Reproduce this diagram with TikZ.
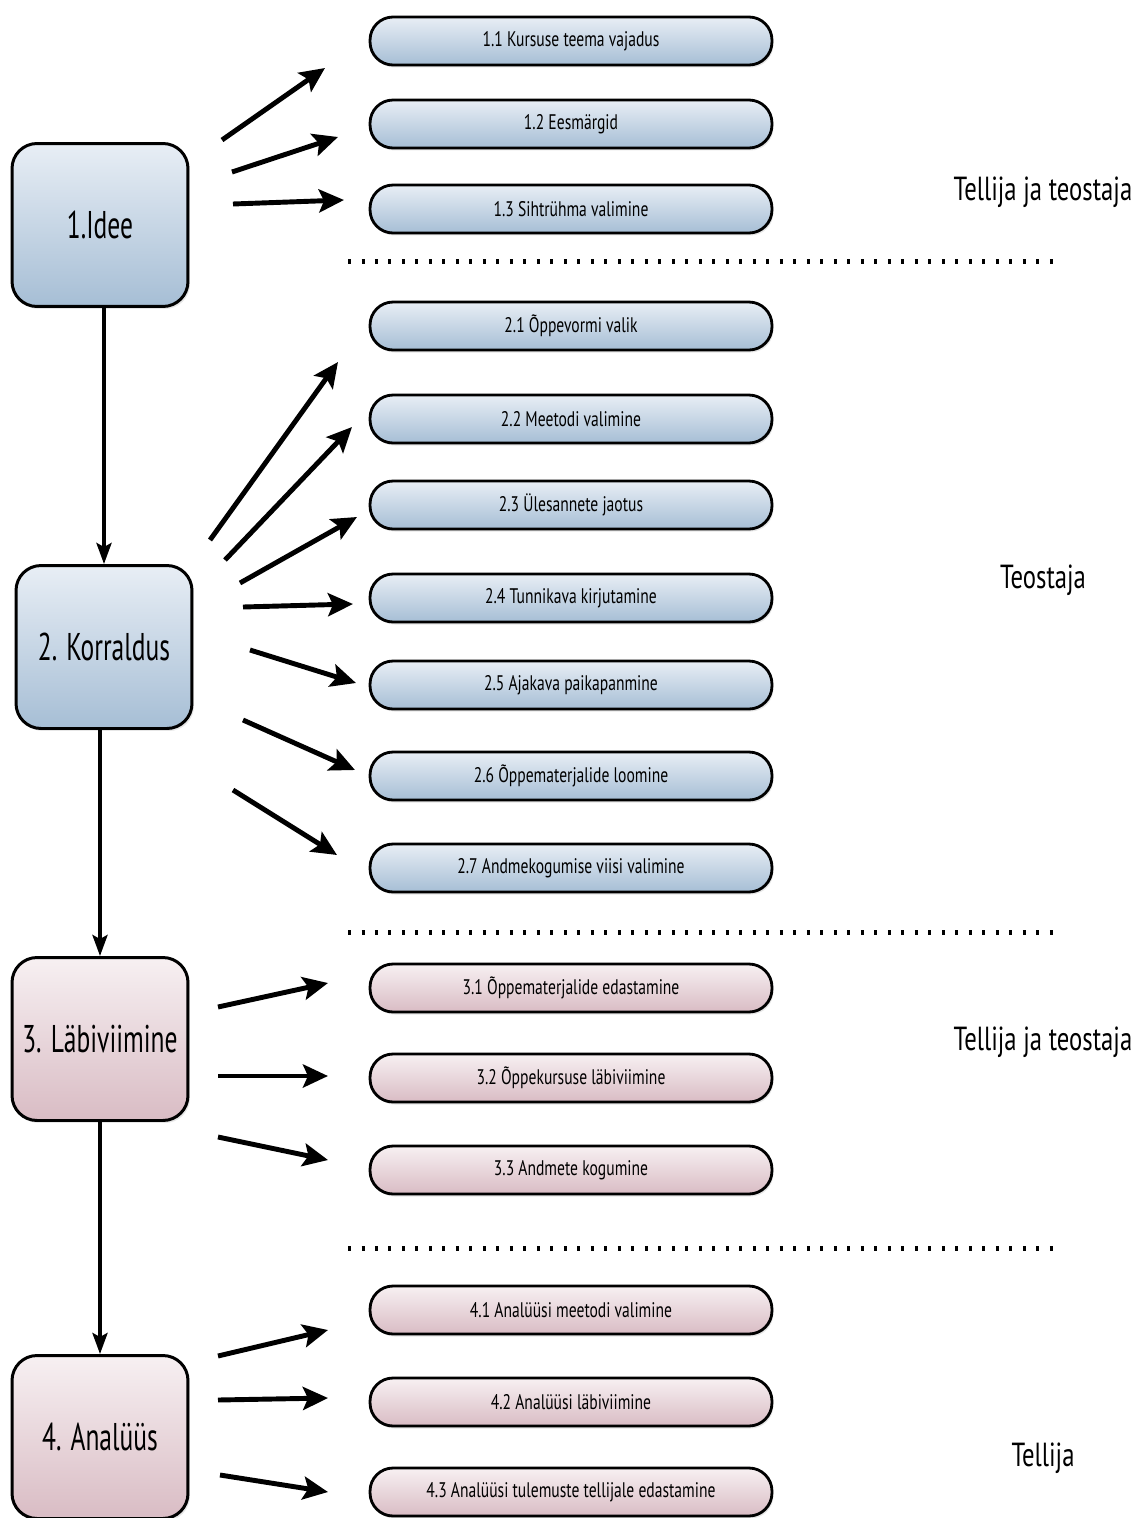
\documentclass[tikz,border=0pt]{standalone}
\usepackage{fontspec}
\setmainfont{PT Sans}[FakeStretch=0.74]
\newfontfamily\phasefont{PT Sans}[FakeStretch=0.66]
\usetikzlibrary{arrows.meta,shadows}

\definecolor{bluetop}{HTML}{E8EEF5}
\definecolor{bluebot}{HTML}{A6BED5}
\definecolor{pinktop}{HTML}{F7F0F2}
\definecolor{pinkbot}{HTML}{D9BCC4}

\tikzset{
  phase/.style={draw, line width=1.7pt, rounded corners=0.5cm, minimum width=3.52cm,
    minimum height=3.26cm, inner sep=0pt, font=\phasefont\fontsize{22}{24}\selectfont,
    drop shadow={opacity=0.2, shadow xshift=0.04cm, shadow yshift=-0.05cm}},
  task/.style={draw, line width=1.6pt, rounded corners=0.46cm, minimum width=8.04cm,
    minimum height=0.96cm, inner sep=0pt, font=\fontsize{12}{14}\selectfont,
    drop shadow={opacity=0.2, shadow xshift=0.03cm, shadow yshift=-0.05cm}},
  blue/.style={top color=bluetop, bottom color=bluebot},
  pink/.style={top color=pinktop, bottom color=pinkbot},
  flow/.style={-{Stealth[length=0.42cm, width=0.3cm, inset=0.08cm]}, line width=2.2pt},
  side/.style={-{Stealth[length=0.5cm, width=0.46cm, inset=0.1cm]}, line width=2.8pt},
  sep/.style={line width=0.1cm, dash pattern=on 0.06cm off 0.21cm},
  role/.style={font=\fontsize{19}{22}\selectfont}
}

\begin{document}
\begin{tikzpicture}[x=0.02cm, y=-0.02cm]
  \useasboundingbox (0,0) rectangle (1140,1518);

  % phases
  \node[phase, blue] at (100,225) (idee) {1.Idee};
  \node[phase, blue] at (104,647) (korraldus) {2. Korraldus};
  \node[phase, pink] at (100,1039) (labiviimine) {3. Läbiviimine};
  \node[phase, pink] at (100,1437) (analuus) {4. Analüüs};

  \draw[flow] (idee.south -| 104,0) -- (korraldus.north -| 104,0);
  \draw[flow] (korraldus.south -| 100,0) -- (labiviimine.north -| 100,0);
  \draw[flow] (labiviimine) -- (analuus);

  % tasks
  \node[task, blue] at (571,41) (t11) {1.1 Kursuse teema vajadus};
  \node[task, blue] at (571,124) (t12) {1.2 Eesmärgid};
  \node[task, blue] at (571,209) (t13) {1.3 Sihtrühma valimine};

  \node[task, blue] at (571,326) (t21) {2.1 Õppevormi valik};
  \node[task, blue] at (571,419) (t22) {2.2 Meetodi valimine};
  \node[task, blue] at (571,505) (t23) {2.3 Ülesannete jaotus};
  \node[task, blue] at (571,598) (t24) {2.4 Tunnikava kirjutamine};
  \node[task, blue] at (571,685) (t25) {2.5 Ajakava paikapanmine};
  \node[task, blue] at (571,776) (t26) {2.6 Õppematerjalide loomine};
  \node[task, blue] at (571,868) (t27) {2.7 Andmekogumise viisi valimine};

  \node[task, pink] at (571,988) (t31) {3.1 Õppematerjalide edastamine};
  \node[task, pink] at (571,1078) (t32) {3.2 Õppekursuse läbiviimine};
  \node[task, pink] at (571,1170) (t33) {3.3 Andmete kogumine};

  \node[task, pink] at (571,1310) (t41) {4.1 Analüüsi meetodi valimine};
  \node[task, pink] at (571,1402) (t42) {4.2 Analüüsi läbiviimine};
  \node[task, pink] at (571,1492) (t43) {4.3 Analüüsi tulemuste tellijale edastamine};

  % arrows from phases towards tasks
  \foreach \n/\sx/\sy/\ex/\ey in {
      1/222/140/325/68, 2/232/172/338/137, 3/233/204/344/200,
      4/210/540/338/362, 5/225/560/352/427, 6/240/583/357/517, 7/243/607/353/604,
      8/250/650/356/683, 9/243/720/355/770, 10/233/790/337/855,
      11/218/1007/328/983, 12/218/1076/328/1076, 13/218/1137/328/1160,
      14/218/1356/328/1330, 15/218/1400/328/1398, 16/220/1475/328/1492} {
    \coordinate (from\n) at (\sx,\sy);
    \coordinate (to\n) at (\ex,\ey);
    \draw[side] (from\n) -- (to\n);
  }

  % separators
  \coordinate (sepA1) at (348,261); \coordinate (sepA2) at (1062,261);
  \coordinate (sepB1) at (348,932); \coordinate (sepB2) at (1062,932);
  \coordinate (sepC1) at (348,1248); \coordinate (sepC2) at (1062,1248);
  \draw[sep] (sepA1) -- (sepA2);
  \draw[sep] (sepB1) -- (sepB2);
  \draw[sep] (sepC1) -- (sepC2);

  % roles
  \node[role] at (1043,192) (roleA) {Tellija ja teostaja};
  \node[role] at (1043,580) (roleB) {Teostaja};
  \node[role] at (1043,1042) (roleC) {Tellija ja teostaja};
  \node[role] at (1043,1458) (roleD) {Tellija};
\end{tikzpicture}
\end{document}
